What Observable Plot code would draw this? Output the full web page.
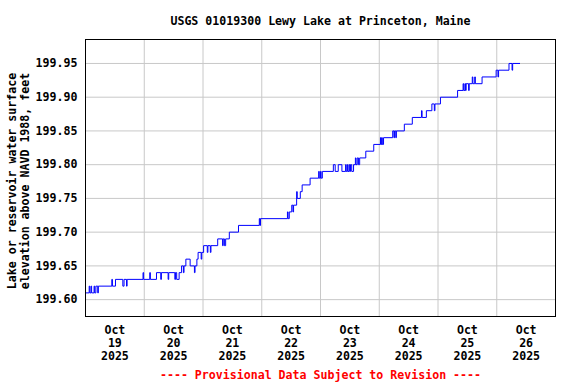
<!DOCTYPE html>
<html>
<head>
<meta charset="utf-8">
<script src="https://cdn.jsdelivr.net/npm/d3@7"></script>
<script src="https://cdn.jsdelivr.net/npm/@observablehq/plot@0.6"></script>
<style>
  html, body { margin: 0; padding: 0; background: #fff; }
</style>
</head>
<body>
<div id="chart"></div>
<script>
const titleText = "USGS 01019300 Lewy Lake at Princeton, Maine";
const captionText = "---- Provisional Data Subject to Revision ----";
const yLabelText = "Lake or reservoir water surface\nelevation above NAVD 1988, feet";

// Hours after 2025-10-19 00:00 at which the gage reading changes
const hoursFromStart = [0,1.5,1.75,2.25,2.5,3.5,3.75,4.25,5,5.25,10.75,11,12.25,15.25,15.75,16.75,17,23.5,23.75,
  26.25,26.5,29,30.75,31,33.75,34,36.5,36.75,37.25,38.25,39.25,40,40.25,41,42.75,44.5,44.75,45.5,46,47.25,47.5,
  48.25,49.75,50,51,51.25,54,56,56.25,56.75,57.25,58.75,62.5,71,71.25,71.5,
  82.5,82.75,83.25,84.25,84.75,85,86.25,86.5,87.75,88.5,91.75,95.25,95.5,96,96.25,96.75,
  101.25,102,103.25,104.75,106.25,106.5,107,107.25,107.75,108,108.25,108.75,109.5,110.25,110.5,111,111.5,112,114.5,117.75,
  120.5,120.75,121,121.25,121.75,125.5,126,126.25,126.75,127,130.25,133.5,137.25,137.5,139.25,141.5,142.5,142.75,
  145,152,154.25,154.5,155,155.25,155.5,156.5,156.75,158,158.25,159,159.25,162,
  167.75,168.5,168.75,173,174.25,174.5,177.5];
// Water surface elevation (ft) from each of those times
const levelsFt = [199.61,199.62,199.61,199.62,199.61,199.62,199.61,199.62,199.61,199.62,199.63,199.62,199.63,199.62,199.63,199.62,199.63,199.64,199.63,
  199.64,199.63,199.64,199.63,199.64,199.63,199.64,199.63,199.64,199.63,199.64,199.65,199.64,199.65,199.66,199.65,199.64,199.65,199.66,199.67,199.66,199.67,
  199.68,199.67,199.68,199.67,199.68,199.69,199.68,199.69,199.68,199.69,199.70,199.71,199.72,199.71,199.72,
  199.73,199.72,199.73,199.74,199.73,199.74,199.76,199.75,199.76,199.77,199.78,199.79,199.78,199.79,199.78,199.79,
  199.80,199.79,199.80,199.79,199.80,199.79,199.80,199.79,199.80,199.79,199.80,199.79,199.80,199.81,199.80,199.81,199.80,199.81,199.82,199.83,
  199.84,199.83,199.84,199.83,199.84,199.85,199.84,199.85,199.84,199.85,199.86,199.87,199.88,199.87,199.88,199.89,199.88,199.89,
  199.90,199.91,199.92,199.91,199.92,199.91,199.92,199.91,199.92,199.93,199.92,199.93,199.92,199.93,
  199.94,199.93,199.94,199.95,199.94,199.95,199.95];

const yTicks = [199.60, 199.65, 199.70, 199.75, 199.80, 199.85, 199.90, 199.95];
const labelDays = ["2025-10-19","2025-10-20","2025-10-21","2025-10-22","2025-10-23","2025-10-24","2025-10-25","2025-10-26"];
const tickLabels = ["Oct\n19\n2025","Oct\n20\n2025","Oct\n21\n2025","Oct\n22\n2025","Oct\n23\n2025","Oct\n24\n2025","Oct\n25\n2025","Oct\n26\n2025"];
const gridDays = ["2025-10-20","2025-10-21","2025-10-22","2025-10-23","2025-10-24","2025-10-25","2025-10-26"];

const start = Date.UTC(2025, 9, 19);
const data = hoursFromStart.map((h, i) => ({date: new Date(start + h * 3600e3), level: levelsFt[i]}));

const font = {fontFamily: "'DejaVu Sans Mono', monospace", fontWeight: "bold", fontSize: 11.6};

const chart = Plot.plot({
  width: 576,
  height: 384,
  marginLeft: 85,
  marginRight: 21,
  marginTop: 39,
  marginBottom: 68,
  style: {fontFamily: "'DejaVu Sans Mono', monospace", fontSize: "11.6px", fontWeight: "bold", background: "#fff", color: "#000"},
  x: {type: "utc", domain: [new Date("2025-10-19T00:00Z"), new Date("2025-10-27T00:00Z")], axis: null},
  y: {domain: [199.575, 199.9855], axis: null},
  marks: [
    Plot.ruleX(gridDays.map(d => new Date(d + "T00:00Z")), {stroke: "#c8c8c8", strokeWidth: 1}),
    Plot.ruleY(yTicks, {stroke: "#c8c8c8", strokeWidth: 1}),
    Plot.line(data, {x: "date", y: "level", stroke: "#0000ff", strokeWidth: 1, curve: "step-after"}),
    Plot.frame({stroke: "#000", strokeWidth: 1}),
    Plot.axisY(yTicks, {tickSize: 0, tickPadding: 8, tickFormat: d => d.toFixed(2), label: null, ...font, fill: "#000"}),
    Plot.text(labelDays, {x: d => new Date(d + "T12:00Z"), text: (d, i) => tickLabels[i], frameAnchor: "bottom", lineAnchor: "top", dy: 8, lineHeight: 1.12, fill: "#000", ...font}),
    Plot.text([titleText], {text: d => d, frameAnchor: "top", lineAnchor: "bottom", dy: -15, fill: "#000", ...font}),
    Plot.text([captionText], {text: d => d, frameAnchor: "bottom", lineAnchor: "middle", dy: 59, fill: "#ff0000", ...font}),
    Plot.text([yLabelText], {text: d => d, frameAnchor: "left", textAnchor: "middle", rotate: -90, dx: -67.5, dy: 3, lineAnchor: "middle", lineHeight: 1.12, fill: "#000", ...font})
  ]
});
document.getElementById("chart").appendChild(chart);
</script>
</body>
</html>
